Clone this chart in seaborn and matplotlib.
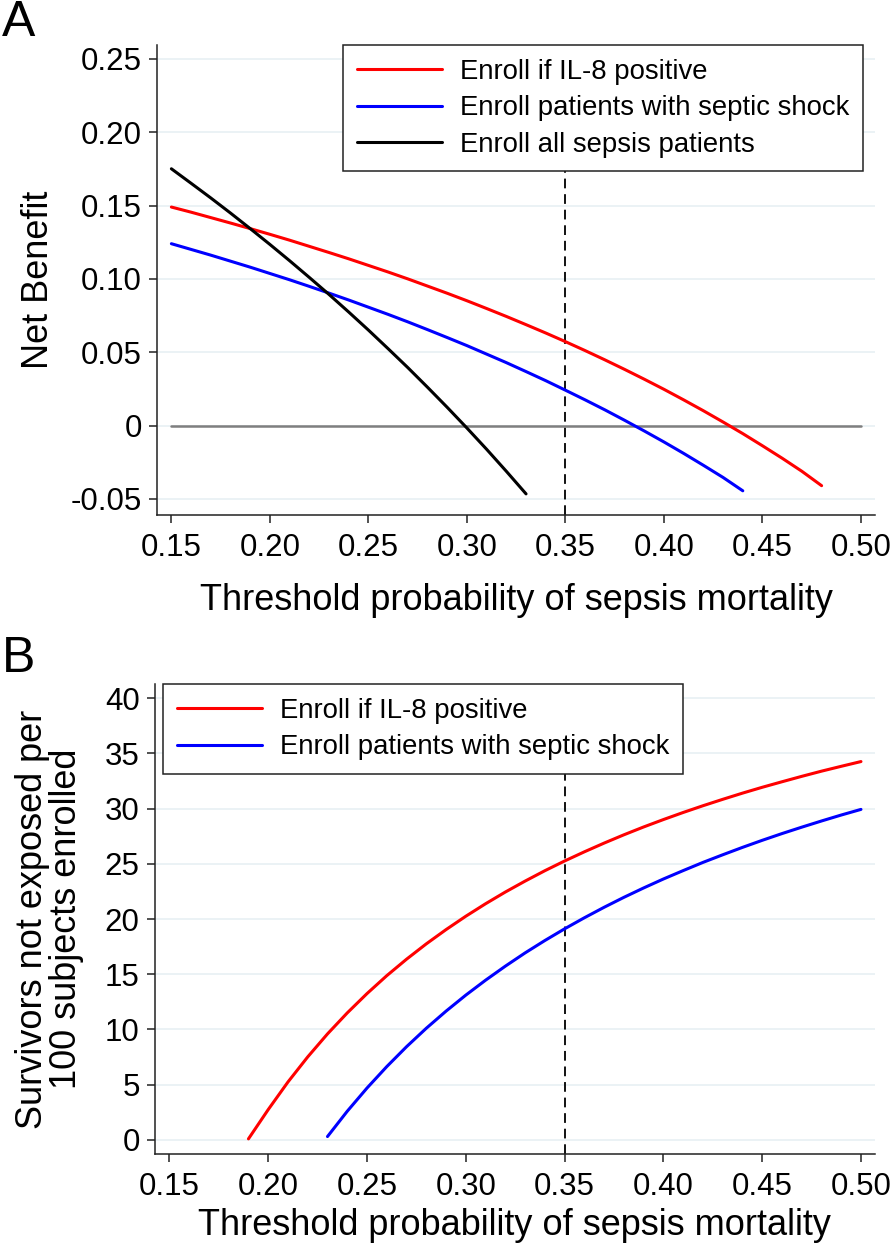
import numpy as np
import pandas as pd
import matplotlib
matplotlib.use("Agg")
import matplotlib.pyplot as plt
import seaborn as sns

# ---------------- data ----------------
# Panel A: net benefit vs threshold probability
thr_red_a = [0.15, 0.16, 0.17, 0.18, 0.19, 0.20, 0.21, 0.22, 0.23, 0.24, 0.25, 0.26,
             0.27, 0.28, 0.29, 0.30, 0.31, 0.32, 0.33, 0.34, 0.35, 0.36, 0.37, 0.38,
             0.39, 0.40, 0.41, 0.42, 0.43, 0.44, 0.45, 0.46, 0.47, 0.48]
nb_il8 = [0.1490, 0.1455, 0.1418, 0.1381, 0.1343, 0.1304, 0.1264, 0.1222, 0.1180,
          0.1137, 0.1092, 0.1047, 0.1000, 0.0951, 0.0902, 0.0851, 0.0798, 0.0744,
          0.0688, 0.0631, 0.0572, 0.0511, 0.0448, 0.0383, 0.0316, 0.0247, 0.0175,
          0.0101, 0.0024, -0.0055, -0.0138, -0.0223, -0.0312, -0.0410]

thr_blue_a = [0.15, 0.16, 0.17, 0.18, 0.19, 0.20, 0.21, 0.22, 0.23, 0.24, 0.25, 0.26,
              0.27, 0.28, 0.29, 0.30, 0.31, 0.32, 0.33, 0.34, 0.35, 0.36, 0.37, 0.38,
              0.39, 0.40, 0.41, 0.42, 0.43, 0.44]
nb_shock = [0.1240, 0.1201, 0.1162, 0.1121, 0.1080, 0.1037, 0.0994, 0.0949, 0.0903,
            0.0856, 0.0807, 0.0758, 0.0707, 0.0654, 0.0600, 0.0545, 0.0487, 0.0429,
            0.0368, 0.0306, 0.0241, 0.0175, 0.0107, 0.0036, -0.0037, -0.0112,
            -0.0190, -0.0271, -0.0354, -0.0445]

thr_black_a = [0.15, 0.16, 0.17, 0.18, 0.19, 0.20, 0.21, 0.22, 0.23, 0.24, 0.25, 0.26,
               0.27, 0.28, 0.29, 0.30, 0.31, 0.32, 0.33]
nb_all = [0.1751, 0.1652, 0.1552, 0.1449, 0.1343, 0.1235, 0.1124, 0.1010, 0.0894,
          0.0774, 0.0651, 0.0524, 0.0395, 0.0261, 0.0124, -0.0017, -0.0162, -0.0312,
          -0.0466]

# Panel B: survivors not exposed per 100 subjects enrolled
thr_red_b = [0.19, 0.20, 0.21, 0.22, 0.23, 0.24, 0.25, 0.26, 0.27, 0.28, 0.29, 0.30,
             0.31, 0.32, 0.33, 0.34, 0.35, 0.36, 0.37, 0.38, 0.39, 0.40, 0.41, 0.42,
             0.43, 0.44, 0.45, 0.46, 0.47, 0.48, 0.49, 0.50]
surv_il8 = [0.1, 2.75, 5.25, 7.52, 9.60, 11.50, 13.25, 14.87, 16.36, 17.75, 19.04,
            20.25, 21.38, 22.44, 23.43, 24.37, 25.25, 26.08, 26.87, 27.62, 28.33,
            29.00, 29.64, 30.25, 30.83, 31.39, 31.92, 32.42, 32.91, 33.38, 33.82, 34.25]

thr_blue_b = [0.23, 0.24, 0.25, 0.26, 0.27, 0.28, 0.29, 0.30, 0.31, 0.32, 0.33, 0.34,
              0.35, 0.36, 0.37, 0.38, 0.39, 0.40, 0.41, 0.42, 0.43, 0.44, 0.45, 0.46,
              0.47, 0.48, 0.49, 0.50]
surv_shock = [0.31, 2.60, 4.70, 6.64, 8.44, 10.11, 11.66, 13.11, 14.46, 15.73, 16.93,
              18.05, 19.11, 20.11, 21.06, 21.96, 22.81, 23.62, 24.38, 25.12, 25.81,
              26.48, 27.12, 27.73, 28.31, 28.87, 29.41, 29.92]

labels_a = ["Enroll if IL-8 positive", "Enroll patients with septic shock",
            "Enroll all sepsis patients"]
colors = ["#ff0000", "#0000ff", "#000000"]

x_ticks = [0.15, 0.20, 0.25, 0.30, 0.35, 0.40, 0.45, 0.50]
x_ticklabels = ["0.15", "0.20", "0.25", "0.30", "0.35", "0.40", "0.45", "0.50"]
y_ticks_a = [-0.05, 0, 0.05, 0.10, 0.15, 0.20, 0.25]
y_ticklabels_a = ["-0.05", "0", "0.05", "0.10", "0.15", "0.20", "0.25"]
y_ticks_b = [0, 5, 10, 15, 20, 25, 30, 35, 40]
y_ticklabels_b = ["0", "5", "10", "15", "20", "25", "30", "35", "40"]

threshold_marker = 0.35
zero_line_x = [0.15, 0.50]
zero_line_y = [0, 0]

xlabel = "Threshold probability of sepsis mortality"
ylabel_a = "Net Benefit"
ylabel_b = "Survivors not exposed per\n100 subjects enrolled"

# ---------------- styling ----------------
sns.set_theme(style="white")
plt.rcParams["font.family"] = ["Liberation Sans", "DejaVu Sans"]
plt.rcParams["text.color"] = "black"
plt.rcParams["axes.labelcolor"] = "black"
plt.rcParams["xtick.color"] = "black"
plt.rcParams["ytick.color"] = "black"

W, H = 894, 1255
fig = plt.figure(figsize=(W / 100, H / 100), dpi=100)

ax_a = fig.add_axes([157 / W, 1 - 515 / H, (875 - 157) / W, (515 - 45) / H])
ax_b = fig.add_axes([155 / W, 1 - 1154 / H, (875 - 155) / W, (1154 - 684) / H])

grid_color = "#e8f0f3"
lw = 2.2

def style_axes(ax, yticks, yticklabels, ylim, ylabel, xlab_y, ylab_x, lsp):
    ax.set_xlim(0.1427, 0.5071)
    ax.set_ylim(*ylim)
    ax.set_xticks(x_ticks)
    ax.set_xticklabels(x_ticklabels)
    ax.set_yticks(yticks)
    ax.set_yticklabels(yticklabels)
    ax.yaxis.grid(True, color=grid_color, linewidth=1.2)
    ax.xaxis.grid(False)
    ax.set_axisbelow(True)
    for s in ["top", "right"]:
        ax.spines[s].set_visible(False)
    for s in ["left", "bottom"]:
        ax.spines[s].set_color("#222222")
        ax.spines[s].set_linewidth(1.1)
    ax.tick_params(axis="both", direction="out", length=6, width=1.1,
                   color="#222222", labelcolor="black", labelsize=22.5, pad=5,
                   left=True, bottom=True)
    ax.tick_params(axis="x", pad=7)
    ax.set_xlabel(xlabel, fontsize=26)
    ax.set_ylabel(ylabel, fontsize=26, linespacing=lsp)
    ax.xaxis.set_label_coords(0.5, xlab_y)
    ax.yaxis.set_label_coords(ylab_x, 0.5)

leg_kw = dict(borderaxespad=0, fontsize=19.8, frameon=True, fancybox=False,
              framealpha=1.0, facecolor="white", edgecolor="#222222",
              handlelength=3.1, handletextpad=0.65, borderpad=0.5,
              labelspacing=0.38)

# ---- Panel A ----
df_red = pd.DataFrame({"x": thr_red_a, "y": nb_il8})
df_blue = pd.DataFrame({"x": thr_blue_a, "y": nb_shock})
df_black = pd.DataFrame({"x": thr_black_a, "y": nb_all})
df_zero = pd.DataFrame({"x": zero_line_x, "y": zero_line_y})

sns.lineplot(data=df_zero, x="x", y="y", ax=ax_a, color="#7f7f7f", linewidth=1.8,
             legend=False)
sns.lineplot(data=df_red, x="x", y="y", ax=ax_a, color=colors[0], linewidth=lw,
             label=labels_a[0])
sns.lineplot(data=df_blue, x="x", y="y", ax=ax_a, color=colors[1], linewidth=lw,
             label=labels_a[1])
sns.lineplot(data=df_black, x="x", y="y", ax=ax_a, color=colors[2], linewidth=lw,
             label=labels_a[2])
ax_a.axvline(threshold_marker, color="#111111", linestyle=(0, (5, 3)), linewidth=1.4,
             zorder=1.5)

style_axes(ax_a, y_ticks_a, y_ticklabels_a, (-0.061, 0.2595), ylabel_a,
           -0.145, -0.141, 1.0)
leg_a = ax_a.legend(loc="upper right", bbox_to_anchor=(1 - 12 / 718, 1.0), **leg_kw)
leg_a.get_frame().set_linewidth(1.1)
leg_a.set_zorder(10)

# ---- Panel B ----
df_red_b = pd.DataFrame({"x": thr_red_b, "y": surv_il8})
df_blue_b = pd.DataFrame({"x": thr_blue_b, "y": surv_shock})
sns.lineplot(data=df_red_b, x="x", y="y", ax=ax_b, color=colors[0], linewidth=lw,
             label=labels_a[0])
sns.lineplot(data=df_blue_b, x="x", y="y", ax=ax_b, color=colors[1], linewidth=lw,
             label=labels_a[1])
ax_b.axvline(threshold_marker, color="#111111", linestyle=(0, (5, 3)), linewidth=1.4,
             zorder=1.5)

style_axes(ax_b, y_ticks_b, y_ticklabels_b, (-1.27, 41.27), ylabel_b,
           -0.115, -0.099, 0.97)
leg_b = ax_b.legend(loc="upper left", bbox_to_anchor=(8 / 720, 1.0), **leg_kw)
leg_b.get_frame().set_linewidth(1.1)
leg_b.set_zorder(10)

# panel letters
fig.text(2 / W, 1 - 0 / H, "A", fontsize=36, va="top", ha="left", color="black")
fig.text(2 / W, 1 - 636 / H, "B", fontsize=36, va="top", ha="left", color="black")

fig.savefig("out.png", dpi=100, facecolor="white")
